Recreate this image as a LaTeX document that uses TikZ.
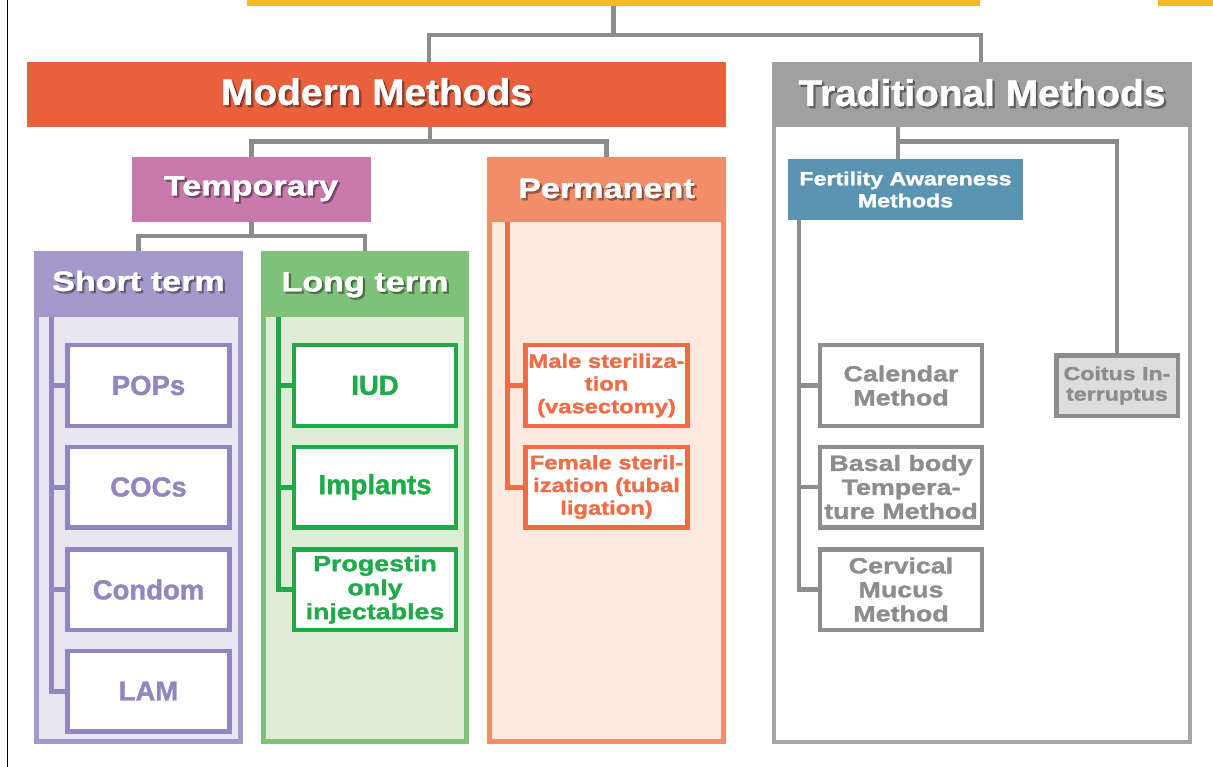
\documentclass[tikz,border=0pt]{standalone}
\usepackage{fontspec}
\setmainfont{Liberation Sans}
\newfontfamily\fA[FakeBold=1.4]{Liberation Sans Bold}
\newfontfamily\fB[FakeStretch=1.22,FakeBold=1.4]{Liberation Sans Bold}
\newfontfamily\fC[FakeStretch=1.05,FakeBold=1.2]{Liberation Sans Bold}
\definecolor{cYel}{HTML}{F8B82E}
\definecolor{cMod}{HTML}{E8603C}
\definecolor{cTrad}{HTML}{A0A0A0}
\definecolor{cTradB}{HTML}{A6A6A6}
\definecolor{cConn}{HTML}{8C8C8C}
\definecolor{cTemp}{HTML}{C879AE}
\definecolor{cShH}{HTML}{A599CB}
\definecolor{cShB}{HTML}{E8E6F3}
\definecolor{cShI}{HTML}{9285C0}
\definecolor{cLoH}{HTML}{7DC278}
\definecolor{cLoB}{HTML}{DDEDD6}
\definecolor{cLoI}{HTML}{21AA4A}
\definecolor{cPeH}{HTML}{F18D69}
\definecolor{cPeB}{HTML}{FCEAE1}
\definecolor{cPeI}{HTML}{EE6D46}
\definecolor{cFA}{HTML}{5A94B0}
\definecolor{cGrI}{HTML}{8D8D8D}
\definecolor{cCoi}{HTML}{DCDDDD}
\newcommand\shadowtext[4]{%
  \node[anchor=base, inner sep=0pt, font={#3}, text=black, text opacity=0.2, xshift=1pt, yshift=-1pt] (#1a) at #2 {#4};
  \node[anchor=base, inner sep=0pt, font={#3}, text=black, text opacity=0.3, xshift=2.2pt, yshift=-2.2pt] (#1b) at #2 {#4};
  \node[anchor=base, inner sep=0pt, font={#3}, text=white] (#1) at #2 {#4};}
\begin{document}
\begin{tikzpicture}[x=1pt,y=-1pt,
  box/.style={rectangle, inner sep=0pt, outer sep=0pt},
  conn/.style={draw=cConn, line width=4.5pt},
  ln/.style={line width=5pt},
  item/.style={box, fill=white, line width=4.5pt, minimum width=162, minimum height=80.5, align=center},
  big/.style={font={\fA\fontsize{27.5}{30}\selectfont}},
  mid/.style={font={\fB\fontsize{22}{24}\selectfont}},
  sml/.style={font={\fB\fontsize{19.5}{22.7}\selectfont}}
]
\useasboundingbox (0,0) rectangle (1213,767);
\fill[white] (0,0) rectangle (1213,767);
\draw[line width=1pt, black] (7.5,0) -- (7.5,767);

% top bars
\node[box, fill=cYel, minimum width=733, minimum height=6] (topbar) at (613.5,3) {};
\node[box, fill=cYel, minimum width=55, minimum height=6] (topbar2) at (1185.5,3) {};

% traditional panel
\draw[draw=cTradB, line width=4.5pt, fill=white] (774,64) rectangle (1190,742);
\node[box, fill=cTrad, minimum width=419, minimum height=65] (trad) at (982.5,94.5) {};
\node[box, fill=cMod, minimum width=699, minimum height=65] (modern) at (376.5,94.5) {};

% sub panels
\draw[draw=cShH, fill=cShB, line width=5pt] (36.5,253.5) rectangle (240.5,741.5);
\node[box, fill=cShH, minimum width=209, minimum height=66] (short) at (138.5,284) {};
\draw[draw=cLoH, fill=cLoB, line width=5pt] (263.5,253.5) rectangle (466.5,741.5);
\node[box, fill=cLoH, minimum width=208, minimum height=66] (long) at (365,284) {};
\draw[draw=cPeH, fill=cPeB, line width=5pt] (489.5,159.5) rectangle (723.5,741.5);
\node[box, fill=cPeH, minimum width=239, minimum height=65] (perm) at (606.5,189.5) {};
\node[box, fill=cTemp, minimum width=239, minimum height=65] (temporary) at (251.5,189.5) {};
\node[box, fill=cFA, minimum width=235, minimum height=61, text=white, align=center,
      font={\fB\fontsize{19}{22}\selectfont}] (fa) at (905.5,189.5) {Fertility Awareness\\Methods};

% header texts
\shadowtext{modernT}{(376.5,105)}{\fC\fontsize{37}{40}\selectfont}{Modern Methods}
\shadowtext{tradT}{(982,106)}{\fC\fontsize{37}{40}\selectfont}{Traditional Methods}
\shadowtext{tempT}{(251,195.5)}{\fB\fontsize{28}{30}\selectfont}{Temporary}
\shadowtext{permT}{(606.5,198)}{\fB\fontsize{28}{30}\selectfont}{Permanent}
\shadowtext{shortT}{(138.5,291)}{\fB\fontsize{28}{30}\selectfont}{Short term}
\shadowtext{longT}{(365,291.5)}{\fB\fontsize{28}{30}\selectfont}{Long term}

% items
\node[item, draw=cShI, text=cShI, big] (pops) at (148.5,385.5) {POPs};
\node[item, draw=cShI, text=cShI, big] (cocs) at (148.5,487) {COCs};
\node[item, draw=cShI, text=cShI, big] (condom) at (148.5,589.5) {Condom};
\node[item, draw=cShI, text=cShI, big] (lam) at (148.5,691) {LAM};

\node[item, draw=cLoI, text=cLoI, big] (iud) at (375,385.5) {IUD};
\node[item, draw=cLoI, text=cLoI, big] (implants) at (375,487) {Implants};
\node[item, draw=cLoI, text=cLoI, mid] (prog) at (375,589.5) {Progestin\\only\\injectables};

\node[item, draw=cPeI, text=cPeI, sml] (male) at (606.5,385.5) {Male steriliza-\\tion\\(vasectomy)};
\node[item, draw=cPeI, text=cPeI, sml] (female) at (606.5,487) {Female steril-\\ization (tubal\\ligation)};

\node[item, draw=cGrI, text=cGrI, mid] (cal) at (901,385.5) {Calendar\\Method};
\node[item, draw=cGrI, text=cGrI, mid] (basal) at (901,487) {Basal body\\Tempera-\\ture Method};
\node[item, draw=cGrI, text=cGrI, mid] (cerv) at (901,589.5) {Cervical\\Mucus\\Method};
\node[item, draw=cGrI, fill=cCoi, text=cGrI, minimum width=121.5, minimum height=60.5,
      font={\fB\fontsize{19}{20.5}\selectfont}] (coitus) at (1117,385.5) {Coitus In-\\terruptus};

% inner lines
\coordinate (sL) at (51.5,317);
\draw[ln, draw=cShI] (sL) |- (lam.west);
\draw[ln, draw=cShI] (sL |- pops.west) -- (pops.west);
\draw[ln, draw=cShI] (sL |- cocs.west) -- (cocs.west);
\draw[ln, draw=cShI] (sL |- condom.west) -- (condom.west);

\coordinate (lL) at (278.5,317);
\draw[ln, draw=cLoI] (lL) |- (prog.west);
\draw[ln, draw=cLoI] (lL |- iud.west) -- (iud.west);
\draw[ln, draw=cLoI] (lL |- implants.west) -- (implants.west);

\coordinate (pX) at (507.5,0);
\draw[ln, draw=cPeI] (perm.south -| pX) |- (female.west);
\draw[ln, draw=cPeI] (pX |- male.west) -- (male.west);

\coordinate (fX) at (799,0);
\draw[line width=4.5pt, draw=cGrI] (fa.south -| fX) |- (cerv.west);
\draw[line width=4.5pt, draw=cGrI] (fX |- cal.west) -- (cal.west);
\draw[line width=4.5pt, draw=cGrI] (fX |- basal.west) -- (basal.west);

% connectors
\coordinate (j0) at (613.5,35);
\coordinate (mX) at (429,0);
\coordinate (tX) at (981,0);
\draw[conn] (topbar.south -| j0) -- (j0);
\draw[conn] (modern.north -| mX) |- (j0) -| (trad.north -| tX);

\coordinate (j1) at (430,141.5);
\draw[conn] (modern.south -| j1) -- (j1);
\draw[conn] (temporary.north) |- (j1) -| (perm.north);

\coordinate (j2) at (251.5,236);
\draw[conn] (temporary.south) -- (j2);
\draw[conn] (short.north) |- (j2) -| (long.north);

\coordinate (j3) at (898,141.5);
\draw[conn] (trad.south -| j3) -- (fa.north -| j3);
\draw[conn] (j3) -| (coitus.north);
\end{tikzpicture}
\end{document}
